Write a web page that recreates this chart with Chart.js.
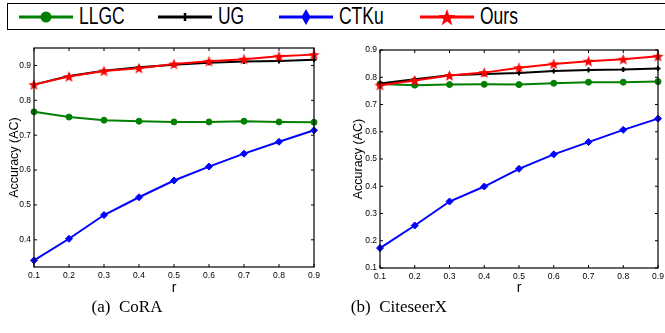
<!DOCTYPE html>
<html>
<head>
<meta charset="utf-8">
<script src="https://cdn.jsdelivr.net/npm/chart.js@4.4.1/dist/chart.umd.min.js"></script>
<style>
  html, body { margin: 0; padding: 0; background: #fff; }
  body { width: 665px; height: 333px; position: relative; overflow: hidden; font-family: "Liberation Sans", Arial, sans-serif; }
  .legend { position: absolute; left: 7px; top: 3px; width: 680px; height: 27px; border: 1px solid #000; box-sizing: border-box; }
  .item { position: absolute; top: 0; height: 27px; }
  .item svg { position: absolute; top: 0; }
  .item span { position: absolute; top: -1px; font-size: 23px; line-height: 27px; transform: scaleX(0.76); transform-origin: left center; color: #000; }
  .box { position: absolute; top: 40px; height: 262px; }
  .cap { position: absolute; top: 297px; font-family: "Liberation Serif", "Times New Roman", serif; font-size: 17px; color: #000; white-space: nowrap; transform: translateX(-50%); }
</style>
</head>
<body>

<div class="legend" id="legend"></div>

<div class="box" style="left:0;width:330px"><canvas id="chartCora"></canvas></div>
<div class="box" style="left:330px;width:335px"><canvas id="chartCiteseer"></canvas></div>

<div class="cap" style="left:127px">(a)&nbsp; CoRA</div>
<div class="cap" style="left:399px">(b)&nbsp; CiteseerX</div>

<script>
// ── Data ───────────────────────────────────────────────────
const rValues = ['0.1','0.2','0.3','0.4','0.5','0.6','0.7','0.8','0.9'];

const coraLLGC = [0.767, 0.752, 0.743, 0.740, 0.738, 0.738, 0.740, 0.738, 0.737];
const coraUG   = [0.845, 0.870, 0.885, 0.895, 0.902, 0.908, 0.911, 0.913, 0.916];
const coraCTKu = [0.341, 0.403, 0.471, 0.522, 0.570, 0.610, 0.647, 0.681, 0.714];
const coraOurs = [0.845, 0.868, 0.884, 0.892, 0.904, 0.912, 0.918, 0.926, 0.931];

const citeLLGC = [0.775, 0.771, 0.773, 0.774, 0.773, 0.778, 0.782, 0.782, 0.784];
const citeUG   = [0.777, 0.793, 0.807, 0.812, 0.816, 0.823, 0.827, 0.828, 0.832];
const citeCTKu = [0.173, 0.256, 0.344, 0.399, 0.464, 0.517, 0.562, 0.607, 0.648];
const citeOurs = [0.771, 0.788, 0.806, 0.817, 0.835, 0.849, 0.859, 0.866, 0.877];

const coraTicks = [0.4, 0.5, 0.6, 0.7, 0.8, 0.9];
const citeTicks = [0.1, 0.2, 0.3, 0.4, 0.5, 0.6, 0.7, 0.8, 0.9];

const seriesNames  = ['LLGC', 'UG', 'CTKu', 'Ours'];
const seriesColors = ['#008000', '#000000', '#0000ff', '#ff0000'];

// ── Star marker (filled five-point) ────────────────────────
function starPath(ctx, cx, cy, R, r) {
  ctx.beginPath();
  for (let i = 0; i < 10; i++) {
    const rad = i % 2 === 0 ? R : r;
    const a = -Math.PI / 2 + i * Math.PI / 5;
    const x = cx + rad * Math.cos(a), y = cy + rad * Math.sin(a);
    i === 0 ? ctx.moveTo(x, y) : ctx.lineTo(x, y);
  }
  ctx.closePath();
}
const starImg = document.createElement('canvas');
starImg.width = 13; starImg.height = 13;
(() => {
  const c = starImg.getContext('2d');
  c.fillStyle = '#ff0000';
  starPath(c, 6.5, 7, 6, 2.5);
  c.fill();
})();

// ── Legend (html) ──────────────────────────────────────────
const legendPos = [11, 150, 271, 412];
function markerSvg(name, color) {
  if (name === 'LLGC') return `<circle cx="27" cy="13" r="5.5" fill="${color}"/>`;
  if (name === 'UG')   return `<line x1="27" y1="9" x2="27" y2="17" stroke="${color}" stroke-width="2.5"/>`;
  if (name === 'CTKu') return `<polygon points="27,5 31.5,13 27,21 22.5,13" fill="${color}"/>`;
  let pts = [];
  for (let i = 0; i < 10; i++) {
    const rad = i % 2 === 0 ? 9 : 3.6;
    const a = -Math.PI / 2 + i * Math.PI / 5;
    pts.push((27 + rad * Math.cos(a)).toFixed(1) + ',' + (14 + rad * Math.sin(a)).toFixed(1));
  }
  return `<polygon points="${pts.join(' ')}" fill="${color}"/>`;
}
const legendEl = document.getElementById('legend');
seriesNames.forEach((name, i) => {
  const col = seriesColors[i];
  const d = document.createElement('div');
  d.className = 'item';
  d.style.left = legendPos[i] + 'px';
  d.innerHTML =
    `<svg width="56" height="27"><line x1="0" y1="13" x2="54" y2="13" stroke="${col}" stroke-width="3"/>${markerSvg(name, col)}</svg>` +
    `<span style="left:60px">${name}</span>`;
  legendEl.appendChild(d);
});

// ── Plugins ────────────────────────────────────────────────
const frameBox = {
  id: 'frameBox',
  afterDraw(chart) {
    const { ctx, chartArea: a, scales } = chart;
    ctx.save();
    ctx.strokeStyle = '#000';
    ctx.lineWidth = 1.2;
    ctx.strokeRect(a.left, a.top, a.right - a.left, a.bottom - a.top);
    // inward tick marks, matlab style
    ctx.lineWidth = 1;
    scales.x.ticks.forEach((t, i) => {
      const x = scales.x.getPixelForTick(i);
      ctx.beginPath();
      ctx.moveTo(x, a.bottom); ctx.lineTo(x, a.bottom - 3);
      ctx.moveTo(x, a.top);    ctx.lineTo(x, a.top + 3);
      ctx.stroke();
    });
    scales.y.ticks.forEach(t => {
      const y = scales.y.getPixelForValue(t.value);
      ctx.beginPath();
      ctx.moveTo(a.left, y);  ctx.lineTo(a.left + 3, y);
      ctx.moveTo(a.right, y); ctx.lineTo(a.right - 3, y);
      ctx.stroke();
    });
    ctx.restore();
  }
};

function makeDatasets(values) {
  const styles = ['circle', 'cross', 'rectRot', starImg];
  const radii  = [3, 2.5, 3.5, 6];
  return values.map((data, i) => ({
    label: seriesNames[i],
    data,
    borderColor: seriesColors[i],
    backgroundColor: seriesColors[i],
    borderWidth: 2,
    pointStyle: styles[i],
    pointRadius: radii[i],
    pointBorderWidth: i === 1 ? 2 : 1,
    tension: 0,
    order: 3 - i
  }));
}

function makeChart(id, values, yMin, yMax, yTicks, layout) {
  const tickFont = { family: 'Liberation Sans, Arial', size: 8.5 };
  return new Chart(document.getElementById(id), {
    type: 'line',
    data: { labels: rValues, datasets: makeDatasets(values) },
    options: {
      responsive: true,
      maintainAspectRatio: false,
      animation: false,
      layout: { padding: { top: layout.top, right: layout.right, left: 0, bottom: 0 } },
      plugins: { legend: { display: false }, tooltip: { enabled: false } },
      scales: {
        x: {
          type: 'category',
          offset: false,
          grid: { display: false, drawTicks: false },
          border: { display: false },
          ticks: { color: '#000', font: tickFont, padding: 4, maxRotation: 0, autoSkip: false },
          title: { display: true, text: 'r', color: '#000', font: { family: 'Liberation Sans, Arial', size: 14 }, padding: { top: 0, bottom: 5 } },
          afterFit(s) { s.height = layout.xh; s.paddingLeft = 0; s.paddingRight = 0; }
        },
        y: {
          min: yMin,
          max: yMax,
          grid: { display: false, drawTicks: false },
          border: { display: false },
          ticks: { color: '#000', font: tickFont, padding: 3, callback: v => v.toFixed(1) },
          afterBuildTicks(s) { s.ticks = yTicks.map(v => ({ value: v })); },
          title: { display: true, text: 'Accuracy (AC)', color: '#000', font: { family: 'Liberation Sans, Arial', size: 12.5 }, padding: { top: layout.titlePad, bottom: 0 } },
          afterFit(s) { s.width = layout.yw; s.paddingTop = 0; s.paddingBottom = 0; }
        }
      }
    },
    plugins: [frameBox]
  });
}

// ── Init ───────────────────────────────────────────────────
makeChart('chartCora', [coraLLGC, coraUG, coraCTKu, coraOurs], 0.322, 0.95, coraTicks,
  { top: 8, right: 16, xh: 35, yw: 34, titlePad: 7 });
makeChart('chartCiteseer', [citeLLGC, citeUG, citeCTKu, citeOurs], 0.1, 0.9, citeTicks,
  { top: 10, right: 6, xh: 34, yw: 50, titlePad: 21 });
</script>
</body>
</html>
